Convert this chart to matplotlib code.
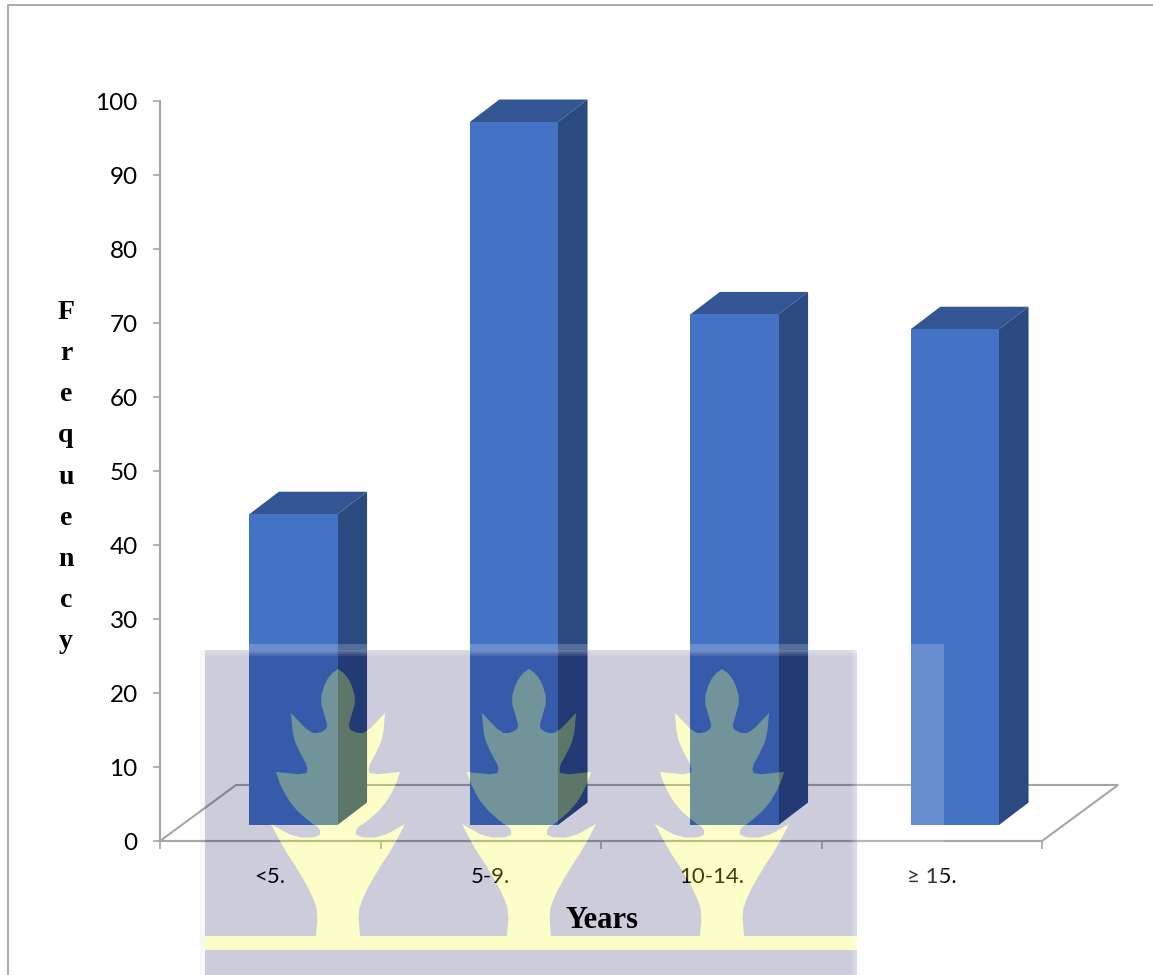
#!/usr/bin/env python3
"""Frequency of years bar chart with pseudo-3D columns and a crest overlay."""
import matplotlib
matplotlib.use("Agg")
import matplotlib.pyplot as plt
from matplotlib.patches import PathPatch, Polygon, Rectangle
from matplotlib.path import Path

categories = ["<5.", "5-9.", "10-14.", "≥ 15."]
frequency = [42, 95, 69, 67]
y_ticks = [0, 10, 20, 30, 40, 50, 60, 70, 80, 90, 100]
y_letters = list("Frequency")

WIDTH, HEIGHT = 1153, 975
FRONT = "#4472C4"
SIDE = "#2B4A80"
TOP = "#335593"
GREY = "#A6A6A6"

# column placement inside each category slot, in axis units
BAR_LEFT = 0.405
BAR_WIDTH = 0.40
BAR_BASE = 2.16
DEPTH_X = 0.134
DEPTH_Y = 3.04
FLOOR_X = 0.345
FLOOR_Y = 7.57

# crest outline: right half, offsets from the centre line in pixels
CREST = [(0, 669), (7, 674), (13, 683), (18, 700), (13, 717), (10, 728), (18, 733), (28, 733),
         (47, 713), (45, 737), (38, 753), (30, 767), (32, 775), (62, 772), (57, 787),
         (45, 807), (27, 823), (18, 828), (18, 837), (42, 838), (67, 824), (55, 847),
         (38, 873), (25, 897), (20, 913), (22, 936)]
CREST_CENTRES = [338, 529, 722]


def smooth(points):
    """One pass of corner cutting, keeping the end points and sharp lobe tips."""
    tips = {(47, 713), (62, 772), (67, 824)}
    result = [points[0]]
    for prev, cur, nxt in zip(points, points[1:], points[2:]):
        if cur in tips:
            result.append(cur)
            continue
        result.append((0.75 * cur[0] + 0.25 * prev[0], 0.75 * cur[1] + 0.25 * prev[1]))
        result.append((0.75 * cur[0] + 0.25 * nxt[0], 0.75 * cur[1] + 0.25 * nxt[1]))
    result.append(points[-1])
    return result


fig = plt.figure(figsize=(WIDTH / 100, HEIGHT / 100), dpi=100)
ax = fig.add_axes([160 / WIDTH, (HEIGHT - 841) / HEIGHT, 882 / WIDTH, 740 / HEIGHT])
ax.set_xlim(0, len(categories))
ax.set_ylim(0, 100)

for side in ("top", "right"):
    ax.spines[side].set_visible(False)
for side in ("left", "bottom"):
    ax.spines[side].set_color(GREY)
    ax.spines[side].set_linewidth(1.5)

ax.set_yticks(y_ticks)
ax.tick_params(axis="y", length=5, width=1.2, color=GREY, pad=11, labelsize=17.5)
for label in ax.get_yticklabels():
    label.set_family("Lato")

ax.set_xticks(range(len(categories) + 1))
ax.set_xticklabels([])
ax.tick_params(axis="x", which="major", length=6, width=1.2, color=GREY)
ax.set_xticks([i + 0.5 for i in range(len(categories))], minor=True)
ax.set_xticklabels(categories, minor=True, family="Lato", fontsize=16)
ax.tick_params(axis="x", which="minor", length=0, pad=19)

# floor of the 3D box
n = len(categories)
floor = Polygon([(0, 0), (FLOOR_X, FLOOR_Y), (n + FLOOR_X, FLOOR_Y), (n, 0)],
                closed=True, fill=False, edgecolor=GREY, linewidth=1.5, clip_on=False, zorder=1)
ax.add_patch(floor)

for i, value in enumerate(frequency):
    x0 = i + BAR_LEFT
    x1 = x0 + BAR_WIDTH
    y0 = BAR_BASE
    y1 = BAR_BASE + value
    faces = [
        ([(x1, y0), (x1 + DEPTH_X, y0 + DEPTH_Y), (x1 + DEPTH_X, y1 + DEPTH_Y), (x1, y1)], SIDE),
        ([(x0, y1), (x1, y1), (x1 + DEPTH_X, y1 + DEPTH_Y), (x0 + DEPTH_X, y1 + DEPTH_Y)], TOP),
        ([(x0, y0), (x1, y0), (x1, y1), (x0, y1)], FRONT),
    ]
    for pts, colour in faces:
        ax.add_patch(Polygon(pts, closed=True, facecolor=colour, edgecolor="none",
                             clip_on=False, zorder=2))

# overlay in pixel coordinates for the frame, crest and axis captions
over = fig.add_axes([0, 0, 1, 1], facecolor="none")
over.set_xlim(0, WIDTH)
over.set_ylim(HEIGHT, 0)
over.axis("off")

over.plot([8, 8, WIDTH], [HEIGHT, 5, 5], color="#ABABAB", linewidth=1.4, zorder=1)

# silhouette: band along the bottom with one crest per centre
half = smooth(CREST)
outline = [(205, 936)]
for cx in CREST_CENTRES:
    outline += [(cx - dx, y) for dx, y in reversed(half[1:])]
    outline += [(cx + dx, y) for dx, y in half]
outline += [(857, 936), (857, 950), (205, 950)]

box = [(205, 650), (857, 650), (857, 975), (205, 975), (205, 650)]
hole = outline + [outline[0]]
if sum((a[0] * b[1] - b[0] * a[1]) for a, b in zip(hole, hole[1:])) > 0:
    hole = hole[::-1]
verts = box + hole
codes = [Path.MOVETO] + [Path.LINETO] * 3 + [Path.CLOSEPOLY]
codes += [Path.MOVETO] + [Path.LINETO] * (len(hole) - 2) + [Path.CLOSEPOLY]

over.add_patch(PathPatch(Path(verts, codes), facecolor=(0, 0, 70 / 255, 0.2), edgecolor="none", zorder=3))
over.add_patch(Polygon(outline, closed=True, facecolor=(248 / 255, 250 / 255, 36 / 255, 0.25),
                       edgecolor="none", zorder=3))

# pale margin around the crest panel
over.add_patch(Rectangle((200, 644), 657, 6, facecolor=(1, 1, 1, 0.2), edgecolor="none", zorder=3))
over.add_patch(Rectangle((857, 644), 87, 331, facecolor=(1, 1, 1, 0.2), edgecolor="none", zorder=3))
over.add_patch(Rectangle((200, 650), 5, 325, facecolor=(0, 0, 70 / 255, 0.03), edgecolor="none", zorder=3))

# soften the panel edges with a few narrow pale strips
for step, alpha in enumerate([0.3, 0.2, 0.1]):
    over.add_patch(Rectangle((205, 650 + 2 * step), 652, 2, facecolor=(1, 1, 1, alpha),
                             edgecolor="none", zorder=3))
    over.add_patch(Rectangle((855 - 2 * step, 650), 2, 325, facecolor=(1, 1, 1, alpha),
                             edgecolor="none", zorder=3))

over.text(66, 477, "\n".join(y_letters), family="Liberation Serif", weight="bold", fontsize=20,
          ha="center", va="center", linespacing=1.85, zorder=4)
over.text(602, 921, "Years", family="Liberation Serif", weight="bold", fontsize=22,
          ha="center", va="center", zorder=4)

fig.savefig("out.png", dpi=100, facecolor="white")
